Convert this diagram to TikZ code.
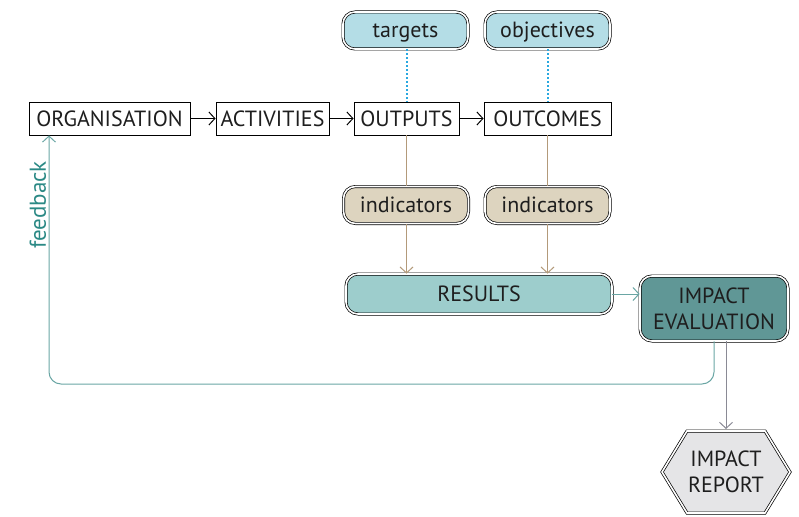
\documentclass[tikz,border=0pt]{standalone}
\usepackage{fontspec}
\setmainfont{PT Sans}
\usetikzlibrary{arrows.meta,calc}
\definecolor{txt}{HTML}{1E1E1E}
\definecolor{skyfill}{HTML}{B4DDE6}
\definecolor{sandfill}{HTML}{DDD4BF}
\definecolor{resfill}{HTML}{9DCDCC}
\definecolor{evalfill}{HTML}{609796}
\definecolor{repfill}{HTML}{E5E5E7}
\definecolor{dotblue}{HTML}{2AA8E0}
\definecolor{sandline}{HTML}{B39A7A}
\definecolor{tealline}{HTML}{6AA6A4}
\definecolor{tealtext}{HTML}{2B8985}
\definecolor{greyline}{HTML}{8A8A95}
\tikzset{
  every node/.style={font=\fontsize{22}{24}\selectfont, text=txt},
  plainbox/.style={draw=black, line width=0.9pt, fill=white, inner sep=0pt,
    minimum height=33pt, text height=15pt, text depth=0pt},
  twin/.style={draw=black, line width=0.7pt, double=white, double distance=1.6pt,
    rounded corners=12pt, inner sep=0pt, text height=15pt, text depth=0pt},
  tag/.style={twin, minimum width=125pt, minimum height=37pt},
  flow/.style={line width=1pt, -{Straight Barb[length=6pt,width=13pt]}},
  link/.style={line width=1pt}
}
\begin{document}
\begin{tikzpicture}[x=1pt,y=-1pt]
\useasboundingbox (0,0) rectangle (799,516);

% main chain
\node[plainbox, minimum width=161pt] (org) at (109.5,118.5) {ORGANISATION};
\node[plainbox, minimum width=113pt] (act) at (272.5,118.5) {ACTIVITIES};
\node[plainbox, minimum width=105pt] (out) at (406.5,118.5) {OUTPUTS};
\node[plainbox, minimum width=127pt] (oc)  at (547.5,118.5) {OUTCOMES};

\draw[flow] (org) -- (act);
\draw[flow] (act) -- (out);
\draw[flow] (out) -- (oc);

% targets and objectives
\node[tag, fill=skyfill] (tg) at (405.5,30.5) {targets};
\node[tag, fill=skyfill] (ob) at (547.5,30.5) {objectives};
\draw[dotblue, line width=2pt, dash pattern=on 2pt off 2pt] (tg.south -| out.north) -- (out.north);
\draw[dotblue, line width=2pt, dash pattern=on 2pt off 2pt] (ob.south -| oc.north) -- (oc.north);

% indicators
\node[tag, fill=sandfill] (in1) at (406,205) {indicators};
\node[tag, fill=sandfill] (in2) at (547.5,205) {indicators};
\draw[sandline, link] (out.south) -- (in1.north -| out.south);
\draw[sandline, link] (oc.south) -- (in2.north -| oc.south);

% results
\node[twin, fill=resfill, minimum width=266pt, minimum height=40pt] (res) at (479,294) {RESULTS};
\draw[sandline, flow] (in1.south -| out.south) -- (res.north -| out.south);
\draw[sandline, flow] (in2.south -| oc.south) -- (res.north -| oc.south);

% impact evaluation
\node[twin, fill=evalfill, minimum width=148pt, minimum height=65pt, text height=,
      text depth=, align=center, font=\fontsize{22}{26}\selectfont] (ie) at (714,308.5) {IMPACT\\EVALUATION};
\draw[tealline, flow] (res.east |- res.center) -- (ie.west |- res.center);

% impact report (hexagon)
\coordinate (rep) at (726,472);
\draw[draw=black, line width=0.7pt, double=white, double distance=1.6pt, fill=repfill]
  ($(rep)+(-39,-41)$) -- ($(rep)+(39,-41)$) -- ($(rep)+(64,0)$) --
  ($(rep)+(39,41)$) -- ($(rep)+(-39,41)$) -- ($(rep)+(-64,0)$) -- cycle;
\node[align=center, font=\fontsize{22}{26}\selectfont, inner sep=0pt] (repl) at (rep) {IMPACT\\REPORT};
\coordinate (reptop) at ($(rep)+(0,-43)$);
\draw[greyline, flow] (ie.south -| rep) -- (reptop);

% feedback loop
\coordinate (fb) at (49,384);
\draw[tealline, flow, rounded corners=12pt] (ie.south) |- (fb) -- (fb |- org.south);
\node[rotate=90, text=tealtext, font=\fontsize{23}{25}\selectfont] (fbl) at (38,205) {feedback};
\end{tikzpicture}
\end{document}
